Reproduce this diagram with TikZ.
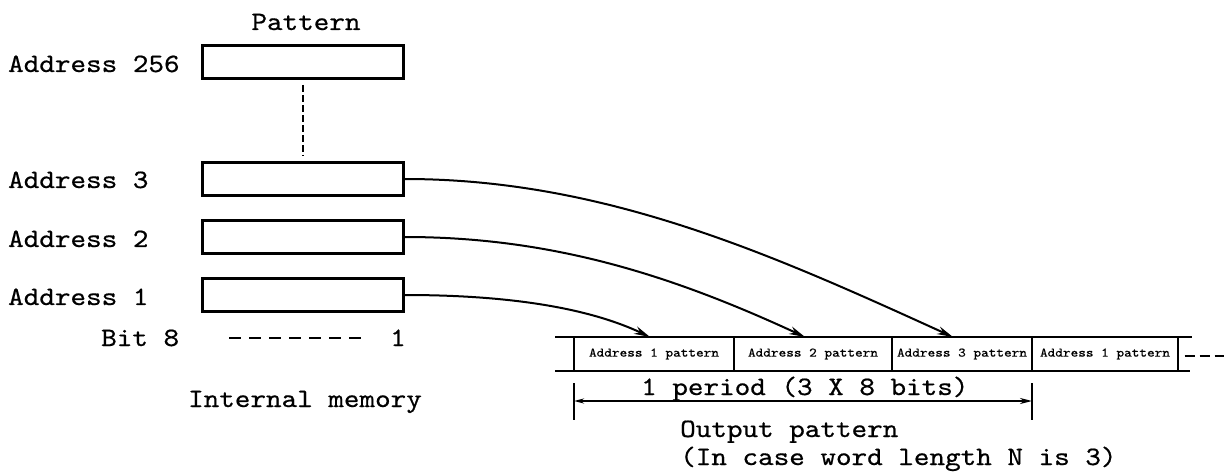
\documentclass[tikz,border=0pt]{standalone}
\usepackage{fontspec}
\newfontfamily\tw{lmmono10-regular}[Extension=.otf,FakeStretch=1.12,FakeBold=0.6]
\usetikzlibrary{arrows.meta}
\tikzset{
  lbl/.style={inner sep=0pt,font=\tw\fontsize{26.5}{30}\selectfont},
  small/.style={inner sep=0pt,font=\tw\fontsize{13}{15}\selectfont},
  membox/.style={draw,line width=2.6pt,minimum width=201pt,minimum height=33pt,inner sep=0pt},
  cell/.style={draw,line width=1.4pt,minimum height=34pt,inner sep=0pt},
  conn/.style={line width=2pt,-{Stealth[length=16pt,width=8pt]}},
  rail/.style={line width=2.8pt},
}
\begin{document}
\begin{tikzpicture}[x=1pt,y=-1pt]
\useasboundingbox (0,0) rectangle (1224,473);
% memory boxes
\node[membox] (b256) at (303,62) {};
\node[membox] (b3) at (303,179) {};
\node[membox] (b2) at (303,237) {};
\node[membox] (b1) at (303,295) {};
\draw[line width=1.6pt,dash pattern=on 7pt off 3pt,shorten <=5pt,shorten >=5pt] (b256.south) -- (b3.north);
% labels
\node[lbl,anchor=base] (pat) at (306,30) {Pattern};
\node[lbl,anchor=base west] (l256) at (8,72) {Address 256};
\node[lbl,anchor=base west] (l3) at (8,188) {Address 3};
\node[lbl,anchor=base west] (l2) at (8,247) {Address 2};
\node[lbl,anchor=base west] (l1) at (8,305) {Address 1};
\node[lbl,anchor=base west] (bit8) at (101,346) {Bit 8};
\node[lbl,anchor=base west] (bit1) at (390,346) {1};
\coordinate (d0) at (229,338);
\coordinate (d1) at (366,338);
\draw[line width=2pt,dash pattern=on 12pt off 8pt] (d0) -- (d1);
\node[lbl,anchor=base] (im) at (305,407) {Internal memory};
% output strip cells
\node[cell,minimum width=160pt] (c1) at (654,354) {};
\node[cell,minimum width=158pt] (c2) at (813,354) {};
\node[cell,minimum width=140pt] (c3) at (962,354) {};
\node[cell,minimum width=146pt] (c4) at (1105,354) {};
\node[small] at (c1) {Address 1 pattern};
\node[small] at (c2) {Address 2 pattern};
\node[small] at (c3) {Address 3 pattern};
\node[small] at (c4) {Address 1 pattern};
\coordinate (tl) at (555,337);
\coordinate (tr) at (1192,337);
\coordinate (bl) at (555,371);
\coordinate (br) at (1190,371);
\draw[rail] (tl) -- (tr);
\draw[rail] (bl) -- (br);
\coordinate (cont) at (1224,356);
\draw[line width=2pt,dash pattern=on 10pt off 5pt] ([xshift=6pt,yshift=-2pt]c4.east) -- (cont);
% connectors
\coordinate (t1) at (650,337);
\coordinate (t2) at (805,337);
\coordinate (t3) at (953,337);
\draw[conn] (b1.east) .. controls +(87,0) and +(-70,-33) .. (t1);
\draw[conn] (b2.east) .. controls +(150,0) and +(-130,-60) .. (t2);
\draw[conn] (b3.east) .. controls +(200,0) and +(-180,-82) .. (t3);
% period dimension
\coordinate (pl) at (574,401);
\coordinate (pr) at (1032,401);
\draw[line width=1.4pt] (574,383) -- (574,420);
\draw[line width=1.4pt] (1032,383) -- (1032,420);
\draw[line width=1.8pt,{Stealth[length=10pt,width=5pt]}-{Stealth[length=12pt,width=6pt]}] (pl) -- (pr);
\node[lbl,anchor=base west] (per) at (641,395) {1 period (3 X 8 bits)};
\node[lbl,anchor=base west] (op) at (680,437) {Output pattern};
\node[lbl,anchor=base west] (note) at (680,465) {(In case word length N is 3)};
\end{tikzpicture}
\end{document}
